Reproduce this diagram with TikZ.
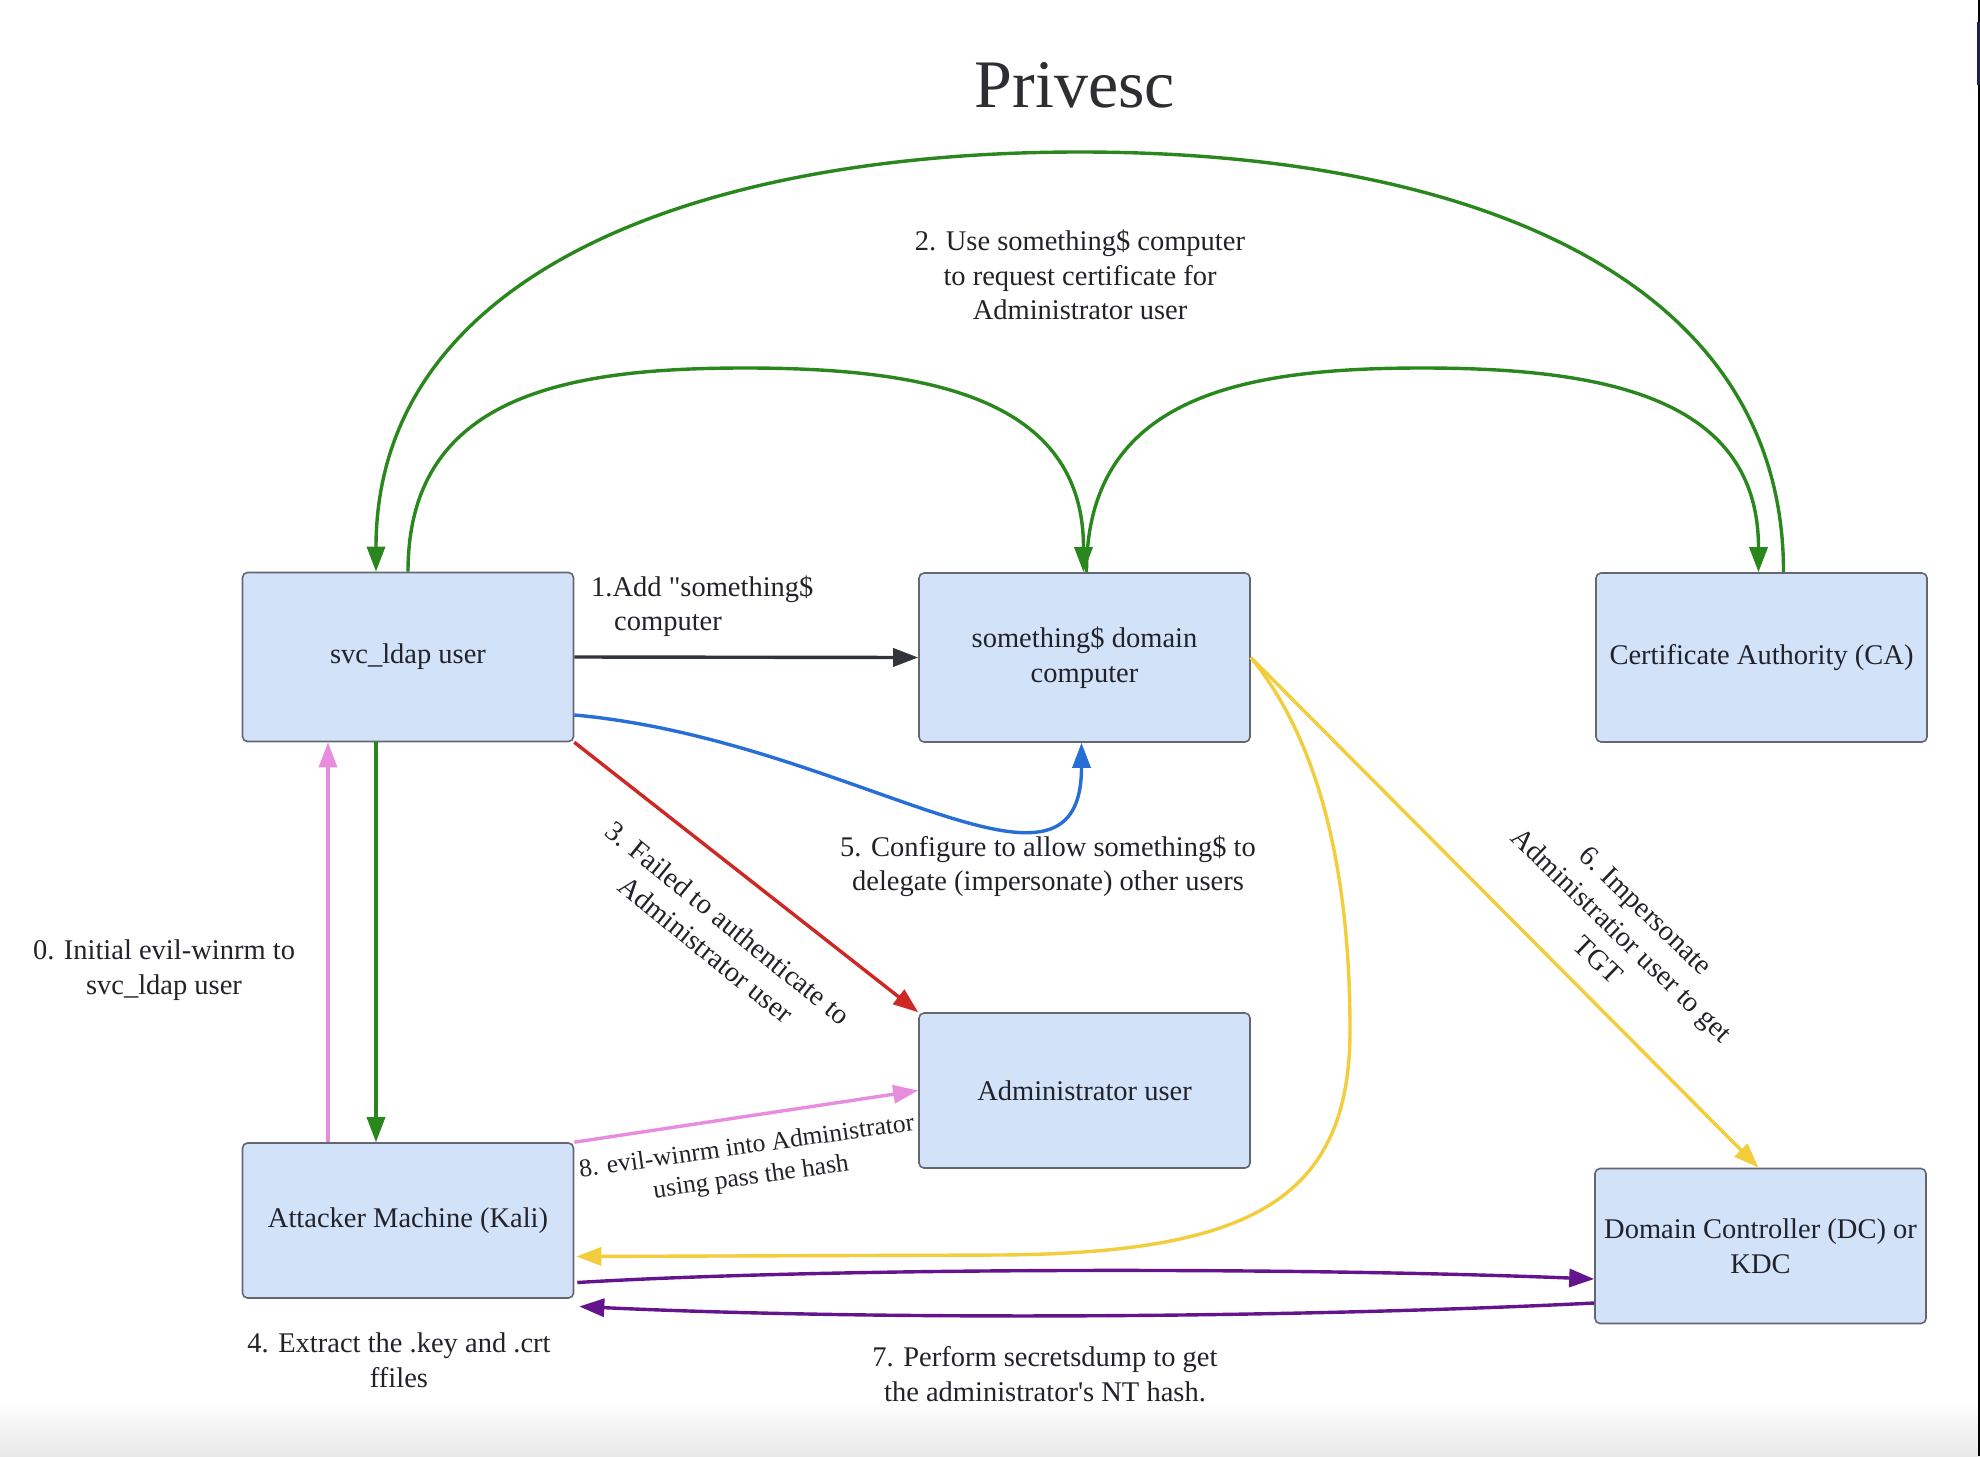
\documentclass[tikz,border=0pt]{standalone}
\usepackage{fontspec}
\setmainfont{Liberation Serif}[Ligatures=TeXOff]
\usetikzlibrary{arrows.meta,calc}
\definecolor{boxfill}{RGB}{209,226,249}
\definecolor{boxline}{RGB}{100,102,112}
\definecolor{txt}{RGB}{34,34,42}
\definecolor{titlec}{RGB}{45,45,50}
\definecolor{greenc}{RGB}{42,135,30}
\definecolor{darkc}{RGB}{50,52,60}
\definecolor{bluec}{RGB}{40,110,215}
\definecolor{redc}{RGB}{205,40,35}
\definecolor{pinkc}{RGB}{232,140,222}
\definecolor{yellowc}{RGB}{242,205,60}
\definecolor{purplec}{RGB}{100,20,140}
\definecolor{edgenavy}{RGB}{30,30,80}
\begin{document}
\begin{tikzpicture}[x=1pt,y=-1pt,
  box/.style={draw=boxline, fill=boxfill, line width=1.6pt, rounded corners=5pt,
    minimum width=331pt, inner sep=0pt, align=center, text=txt,
    font=\fontsize{28.5}{34.5}\selectfont},
  lbl/.style={align=center, text=txt, inner sep=0pt,
    font=\fontsize{28.5}{34.5}\selectfont},
  conn/.style={line width=3.4pt, -{Triangle[length=25pt,width=18pt]}},
]
\useasboundingbox (0,0) rectangle (1980,1456);
\fill[white] (0,0) rectangle (1980,1456);
\shade[top color=white, bottom color=black!9] (0,1400) rectangle (1980,1456);
\draw[line width=2pt, black] (1978.5,0) -- (1978.5,1456);
\draw[line width=3pt, edgenavy] (1978,22) -- (1978,85);

% title
\node[font=\fontsize{68}{80}\selectfont, text=titlec] (title) at (1075,85) {Privesc};

% boxes
\node[box, minimum height=169pt] (svc) at (408,657) {svc\_ldap user};
\node[box, minimum height=169pt] (sth) at (1084.5,657.5) {something\$ domain\\computer};
\node[box, minimum height=169pt] (ca) at (1761.5,657.5) {Certificate Authority (CA)};
\node[box, minimum height=155pt] (adm) at (1084.5,1090.5) {Administrator user};
\node[box, minimum height=155pt] (att) at (408,1220.5) {Attacker Machine (Kali)};
\node[box, minimum height=155pt] (dc) at (1760.5,1246) {Domain Controller (DC) or\\KDC};

% helper coordinates
\coordinate (bigtop) at (1080,152);
\coordinate (m2top) at (745,368);
\coordinate (m3top) at (1422,368);
\coordinate (yc1) at (1350,1030);
\coordinate (yc2) at (1000,1255);

% connectors
\draw[conn, greenc] ($(ca.north)+(22,0)$) .. controls +(0,-300) and +(380,0) .. (bigtop)
   .. controls +(-380,0) and +(0,-300) .. ($(svc.north)+(-32,0)$);
\draw[conn, greenc] (svc.north) .. controls +(0,-175) and +(-182,0) .. (m2top)
   .. controls +(182,0) and +(0,-175) .. ($(sth.north)+(-1,0)$);
\draw[conn, greenc] ($(sth.north)+(2,0)$) .. controls +(0,-175) and +(-182,0) .. (m3top)
   .. controls +(182,0) and +(0,-175) .. ($(ca.north)+(-3,0)$);
\draw[conn, darkc] (svc.east) -- (sth.west);
\draw[conn, bluec] ($(svc.east)+(0,58)$) .. controls +(277,25) and +(0,188) .. ($(sth.south)+(-3,0)$);
\draw[conn, redc] (svc.south east) -- (adm.north west);
\draw[conn, greenc] ($(svc.south)+(-32,0)$) -- ($(att.north)+(-32,0)$);
\draw[conn, pinkc] ($(att.north)+(-80,0)$) -- ($(svc.south)+(-80,0)$);
\draw[conn, pinkc] (att.north east) -- (adm.west);
\draw[conn, yellowc] (sth.east) -- ($(dc.north)+(-2,0)$);
\draw[conn, yellowc] (sth.east) .. controls +(60,73) and +(0,-180) .. (yc1)
   .. controls +(0,170) and +(250,-2) .. (yc2) -- ($(att.east)+(2,36)$);
\draw[conn, purplec] ($(att.east)+(3,62)$) .. controls +(250,-15) and +(-300,-12) .. ($(dc.west)+(0,33)$);
\draw[conn, purplec] ($(dc.west)+(0,57)$) .. controls +(-300,15) and +(300,14) .. ($(att.east)+(5,86)$);

% labels
\node[lbl] (l0) at (164,970) {0. Initial evil-winrm to\\svc\_ldap user};
\node[lbl, anchor=west, align=left] (l1) at (591,606) {1.Add "something\$\\\hspace*{23pt}computer};
\node[lbl] (l2) at (1080,275) {2. Use something\$ computer\\to request certificate for\\Administrator user};
\node[lbl, rotate=-39] (l3) at (717,936) {3. Failed to authenticate to\\Administrator user};
\node[lbl] (l4) at (399,1360) {4. Extract the .key and .crt\\ffiles};
\node[lbl] (l5) at (1048,866) {5. Configure to allow something\$ to\\delegate (impersonate) other users};
\node[lbl, rotate=-44] (l6) at (1622,935) {6. Impersonate\\Administratior user to get\\TGT};
\node[lbl] (l7) at (1045,1374) {7. Perform secretsdump to get\\the administrator's NT hash.};
\node[lbl, rotate=8, font=\fontsize{25.6}{31}\selectfont] (l8) at (749,1163) {8. evil-winrm into Administrator\\using pass the hash};
\end{tikzpicture}
\end{document}
